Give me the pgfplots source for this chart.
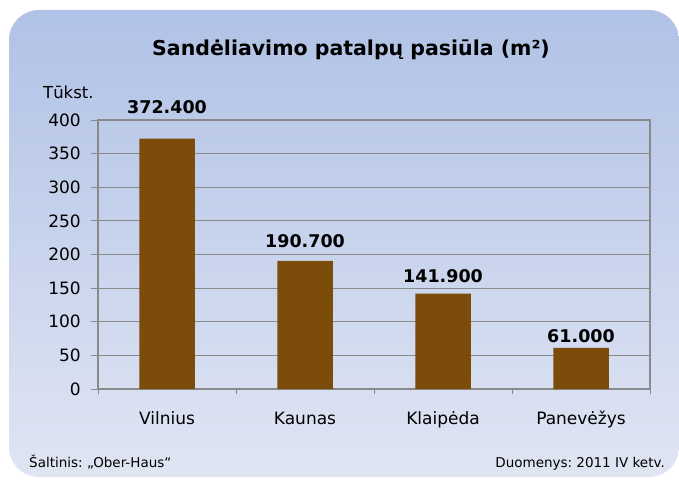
\documentclass[border=0pt]{standalone}
\usepackage{fontspec}
\setmainfont{DejaVu Sans}
\usepackage{pgfplots}
\usepackage{pgfplotstable}
\pgfplotsset{compat=1.18}
\frenchspacing
\definecolor{bgtop}{RGB}{176,194,230}
\definecolor{bgbot}{RGB}{224,229,243}
\definecolor{barc}{RGB}{123,76,10}
\definecolor{gridc}{RGB}{138,138,138}

% x  value  label  gap above bar (px)
\pgfplotstableread{
x y lab sh
0 372.4 372.400 25
1 190.7 190.700 13
2 141.9 141.900 11
3 61.0 61.000 5
}\datatable

\begin{document}
\begin{tikzpicture}[x=1pt,y=1pt]
\useasboundingbox (0,0) rectangle (679,480);
\fill[white] (0,0) rectangle (679,480);
\shade[top color=bgtop,bottom color=bgbot,rounded corners=30pt] (9,3) rectangle (679,470);

\node[anchor=base,font=\fontsize{20.5}{24}\selectfont\bfseries] at (351,424) {Sandėliavimo patalpų pasiūla (m²)};
\node[anchor=base west,inner sep=0pt,font=\fontsize{16.5}{19}\selectfont] at (43,381) {Tūkst.};
\node[anchor=base west,inner sep=0pt,font=\fontsize{13.5}{16}\selectfont] at (29,13) {Šaltinis: „Ober-Haus“};
\node[anchor=base east,inner sep=0pt,font=\fontsize{13.5}{16}\selectfont] at (665,13) {Duomenys: 2011 IV ketv.};

\begin{axis}[
  at={(98pt,91pt)}, anchor=south west,
  scale only axis, width=552pt, height=269pt,
  ybar, bar width=55.5pt,
  xmin=-0.5, xmax=3.5, ymin=0, ymax=400,
  xtick={0,1,2,3},
  xticklabels={Vilnius,Kaunas,Klaipėda,Panevėžys},
  minor xtick={-0.5,0.5,1.5,2.5,3.5},
  ytick={0,50,...,400},
  ymajorgrids,
  grid style={draw=gridc, line width=1pt},
  axis line style={draw=gridc, line width=1.4pt},
  tick align=outside, xtick pos=bottom, ytick pos=left,
  major tick length=7pt, minor tick length=5pt,
  tick style={draw=gridc, line width=1pt},
  major x tick style={draw=none},
  tick label style={font=\fontsize{17}{20}\selectfont},
  /pgf/number format/assume math mode=true,
  xticklabel style={anchor=base, inner sep=0pt, yshift=-28pt},
  yticklabel style={anchor=east, inner sep=0pt, xshift=-10pt},
  point meta=explicit symbolic,
  nodes near coords={\pgfplotspointmeta},
  visualization depends on={\thisrow{sh}\as\labshift},
  every node near coord/.append style={anchor=base, inner sep=0pt,
    yshift=\labshift pt, font=\fontsize{17.5}{20}\selectfont\bfseries},
]
\addplot[fill=barc, draw=none, bar shift=0pt] table[x=x, y=y, meta=lab] {\datatable};
\end{axis}
\end{tikzpicture}
\end{document}
